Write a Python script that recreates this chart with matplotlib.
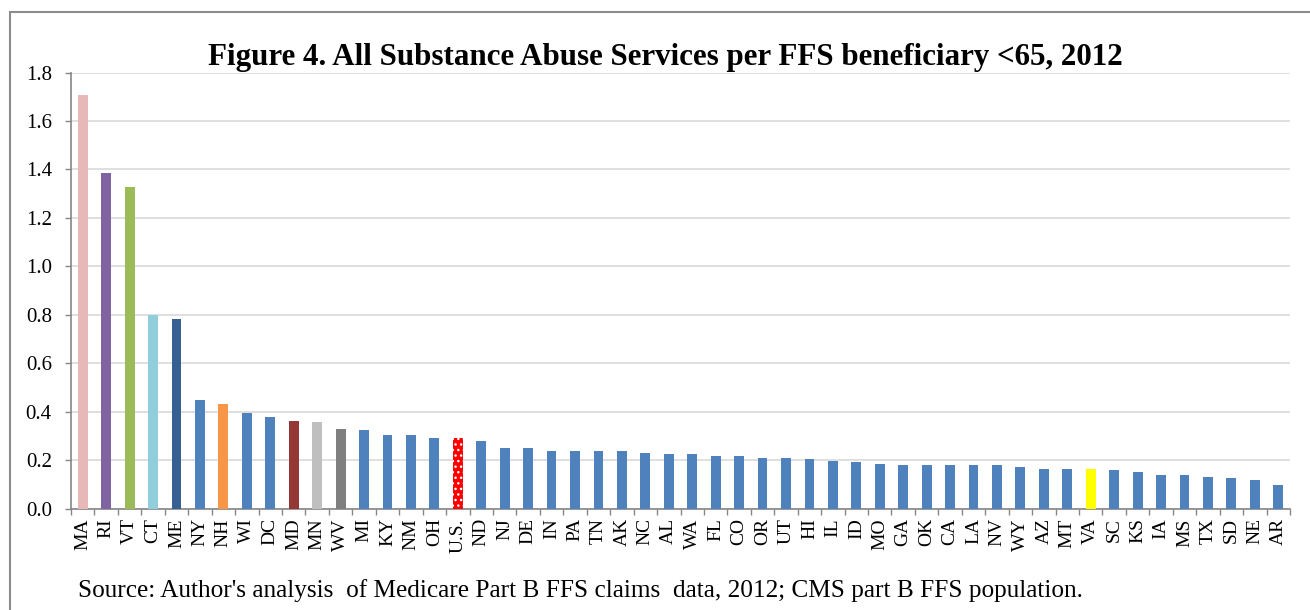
import matplotlib
matplotlib.use("Agg")
import matplotlib.pyplot as plt
from matplotlib.patches import Rectangle
from matplotlib.ticker import FixedLocator, FormatStrFormatter

states = ["MA", "RI", "VT", "CT", "ME", "NY", "NH", "WI", "DC", "MD", "MN", "WV", "MI",
          "KY", "NM", "OH", "U.S.", "ND", "NJ", "DE", "IN", "PA", "TN", "AK", "NC", "AL",
          "WA", "FL", "CO", "OR", "UT", "HI", "IL", "ID", "MO", "GA", "OK", "CA", "LA",
          "NV", "WY", "AZ", "MT", "VA", "SC", "KS", "IA", "MS", "TX", "SD", "NE", "AR"]
values = [1.706, 1.387, 1.329, 0.797, 0.783, 0.450, 0.430, 0.396, 0.377, 0.363, 0.356,
          0.330, 0.323, 0.304, 0.304, 0.290, 0.290, 0.277, 0.250, 0.250, 0.238, 0.238,
          0.238, 0.238, 0.230, 0.223, 0.223, 0.216, 0.216, 0.209, 0.209, 0.204, 0.197,
          0.190, 0.185, 0.178, 0.178, 0.178, 0.178, 0.178, 0.171, 0.164, 0.164, 0.164,
          0.157, 0.152, 0.137, 0.137, 0.131, 0.124, 0.118, 0.098]

default_color = "#4F81BD"
special_colors = {"MA": "#E6B9B8", "RI": "#8064A2", "VT": "#9BBB59", "CT": "#92CDDC",
                  "ME": "#366092", "NH": "#F79646", "MD": "#953735", "MN": "#BFBFBF",
                  "WV": "#7F7F7F", "U.S.": "#FF0000", "VA": "#FFFF00"}
colors = [special_colors.get(s, default_color) for s in states]

title = "Figure 4. All Substance Abuse Services per FFS beneficiary <65, 2012"
source = "Source: Author's analysis  of Medicare Part B FFS claims  data, 2012; CMS part B FFS population."

plt.rcParams["font.family"] = ["Liberation Serif", "DejaVu Serif"]
plt.rcParams["hatch.linewidth"] = 1.0

W, H = 1310, 610
fig = plt.figure(figsize=(W / 100, H / 100), dpi=100)
ax = fig.add_axes([71 / W, 1 - 508.5 / H, (1290 - 71) / W, (508.5 - 72.5) / H])

x = list(range(len(states)))
ax.bar(x, values, width=0.42, color=colors, zorder=3)

# patterned U.S. bar
us = states.index("U.S.")
ax.bar([us], [values[us]], width=0.42, facecolor="none", edgecolor="white",
       linewidth=0, hatch="...", zorder=4)

ax.set_xlim(-0.5, len(states) - 0.5)
ax.set_ylim(0, 1.8)
ax.yaxis.set_major_locator(FixedLocator([i * 0.2 for i in range(10)]))
ax.yaxis.set_major_formatter(FormatStrFormatter("%.1f"))
ax.grid(axis="y", color="#D9D9D9", linewidth=1.2, zorder=0)

ax.set_xticks(x)
ax.set_xticklabels(states, rotation=90, fontsize=14)
ax.set_xticks([i - 0.5 for i in range(len(states) + 1)], minor=True)
ax.tick_params(axis="x", which="major", length=0, pad=7)
ax.tick_params(axis="x", which="minor", length=4.3, color="#868686", width=1)
ax.tick_params(axis="y", length=4.3, color="#868686", width=1, labelsize=15, pad=9.5)

for s in ["top", "right"]:
    ax.spines[s].set_visible(False)
for s in ["left", "bottom"]:
    ax.spines[s].set_color("#868686")
    ax.spines[s].set_linewidth(1.2)

fig.text(665 / W, 1 - 65 / H, title, ha="center", va="baseline", fontsize=22.3, fontweight="bold")
fig.text(78 / W, 1 - 597 / H, source, ha="left", va="baseline", fontsize=18.2)

fig.patches.append(Rectangle((10 / W, -0.05), 1.1, 1.05 - 12 / H, transform=fig.transFigure,
                             fill=False, edgecolor="#8C8C8C", linewidth=1.5))

fig.savefig("out.png", dpi=100)
